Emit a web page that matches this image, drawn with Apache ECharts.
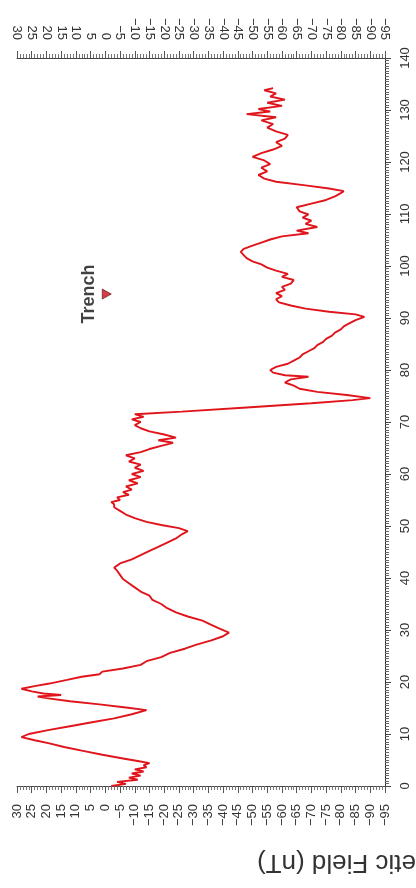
<!DOCTYPE html>
<html>
<head>
<meta charset="utf-8">
<script src="https://cdn.jsdelivr.net/npm/echarts@6/dist/echarts.min.js"></script>
<style>
html,body{margin:0;padding:0;background:#fff;}
#chart{width:416px;height:888px;}
</style>
</head>
<body>
<div id="chart"></div>
<script>
// Distance along profile (axis 0..140)
const distance = [
0,0.4,0.8,1.2,1.6,2.0,2.4,2.8,3.2,3.6,4.0,4.4,4.8,5.3,6.0,6.8,7.5,8.2,8.8,9.4,
10.0,10.8,11.5,12.2,13.0,13.8,14.6,15.1,15.7,16.3,16.9,17.2,17.5,17.8,18.2,18.7,19.2,19.7,20.4,21.0,
21.5,22.0,22.6,23.3,24.0,24.8,25.6,26.4,27.2,28.0,28.8,29.5,30.2,31.0,31.8,32.6,33.4,34.2,35.0,35.8,
36.6,37.4,38.2,39.0,39.8,40.6,41.4,42.0,42.8,43.6,44.4,45.2,46.0,46.8,47.6,48.4,49.0,49.6,50.2,50.8,
51.5,52.2,52.9,53.6,54.2,54.6,55.0,55.5,56.0,56.5,57.0,57.6,58.2,58.8,59.4,60.0,60.6,61.2,61.8,62.4,
63.0,63.6,64.2,64.8,65.4,66.0,66.5,67.0,67.6,68.2,68.8,69.4,70.0,70.5,71.0,71.5,72.0,72.8,73.6,74.2,
74.6,75.2,75.8,76.4,77.0,77.6,78.2,78.7,79.0,79.5,80.0,80.6,81.2,81.8,82.4,83.0,83.6,84.2,84.8,85.4,
86.0,86.6,87.2,87.8,88.4,89.0,89.6,90.2,90.7,91.2,91.8,92.4,93.0,93.6,94.2,94.8,95.4,96.0,96.6,97.3,
97.9,98.5,99.1,99.7,100.3,100.9,101.5,102.1,102.7,103.3,103.9,104.5,105.1,105.7,106.3,106.8,107.5,108.1,108.7,109.3,
109.9,110.5,111.3,112.0,112.7,113.4,114.0,114.4,114.9,115.5,116.2,116.8,117.5,118.2,118.9,119.6,120.3,121.0,121.7,122.4,
123.1,123.8,124.5,125.2,125.9,126.6,127.3,128.0,128.6,129.2,129.7,130.2,130.8,131.4,132.0,132.6,133.2,133.8,134.2
];
// Magnetic field (nT)
const field = [
-2,-7,-4,-11,-8,-12,-9,-13,-10,-14,-13,-15,-11,-6,1,8,14,19,24,28.5,
26,19,12,5,-3,-9,-14,-7,2,12,20,23,15,21,25,28.5,24,19,13,8,
2,1,-6,-12,-14,-19,-22,-27,-31,-36,-40,-42,-39,-36,-33,-28,-24,-21,-19,-16,
-15,-12,-10,-8,-6,-5,-4,-3,-5,-9,-12,-15,-18,-21,-24,-26,-28,-25,-19,-14,
-10,-7,-5,-3,-3,-2,-5,-4,-8,-6,-9,-7,-11,-8,-12,-9,-13,-10,-12,-8,
-10,-7,-12,-15,-19,-23,-18,-24,-20,-15,-12,-10,-12,-9,-13,-10,-26,-48,-70,-84,
-90,-82,-72,-66,-64,-61,-63,-69,-61,-57,-56,-58,-62,-64,-66,-67,-69,-71,-72,-74,
-75,-77,-78,-80,-81,-83,-85,-88,-85,-76,-68,-63,-59,-58,-60,-58,-61,-60,-63,-64,
-60,-62,-58,-55,-53,-50,-48,-47,-46,-47,-50,-53,-56,-60,-69,-65,-72,-68,-70,-67,
-69,-66,-65,-70,-75,-78,-80,-81,-76,-68,-58,-54,-52,-55,-53,-56,-54,-50,-53,-57,
-60,-58,-61,-62,-58,-55,-57,-53,-58,-48,-56,-52,-60,-55,-61,-56,-58,-54,-57
];
// Trench marker
const trenchDistance = [94.6];
const trenchField = [-0.5];
const trenchLabel = 'Trench';
const titleText = 'Magnetic Field (nT)';

const lineData = distance.map((d, i) => [field[i], d]);
const trenchData = trenchDistance.map((d, i) => [trenchField[i], d]);

const FONT = '"Liberation Sans", Arial, Helvetica, sans-serif';
const fmt = v => (v < 0 ? '\u2212' + Math.abs(v) : String(v));

function fieldAxis(pos) {
  return {
    type: 'value', position: pos, min: -95, max: 30, interval: 5, inverse: true,
    axisLine: { show: true, onZero: false, lineStyle: { color: '#444', width: 1 } },
    axisTick: { show: true, length: 7, lineStyle: { color: '#555', width: 1 } },
    minorTick: { show: true, splitNumber: 5, length: 4, lineStyle: { color: '#777', width: 1 } },
    splitLine: { show: false },
    axisLabel: { rotate: 90, margin: 18, fontSize: 13, fontFamily: FONT, color: '#333', formatter: fmt }
  };
}

const chart = echarts.init(document.getElementById('chart'), null, { renderer: 'canvas' });
chart.setOption({
  animation: false,
  backgroundColor: '#ffffff',
  grid: { left: 17, right: 31, top: 58, bottom: 102, containLabel: false },
  xAxis: [fieldAxis('bottom'), fieldAxis('top')],
  yAxis: {
    type: 'value', position: 'right', min: 0, max: 140, interval: 10,
    axisLine: { show: true, onZero: false, lineStyle: { color: '#333', width: 1 } },
    axisTick: { show: true, length: 6, lineStyle: { color: '#444' } },
    minorTick: { show: true, splitNumber: 20, length: 4, lineStyle: { color: '#666' } },
    splitLine: { show: false },
    axisLabel: { rotate: 90, margin: 14, fontSize: 13, fontFamily: FONT, color: '#333' }
  },
  graphic: [{
    type: 'text', x: 369, y: 862, rotation: Math.PI,
    style: { text: titleText, font: '26px ' + FONT, fill: '#333', align: 'center', verticalAlign: 'middle' }
  }],
  series: [
    {
      type: 'line', xAxisIndex: 0, data: lineData, showSymbol: false, symbol: 'none',
      lineStyle: { color: '#e0141b', width: 1.9 }, z: 3
    },
    {
      type: 'scatter', xAxisIndex: 0, data: trenchData, symbol: 'triangle', symbolSize: [10, 9],
      symbolRotate: -90,
      itemStyle: { color: '#c8101c', borderColor: '#5a0a0a', borderWidth: 0.8 },
      label: {
        show: true, formatter: trenchLabel, position: 'left', distance: 4, rotate: 90,
        align: 'center', verticalAlign: 'bottom',
        fontSize: 18, fontWeight: 'bold', fontFamily: FONT, color: '#111'
      }, z: 4
    }
  ]
});
</script>
</body>
</html>
